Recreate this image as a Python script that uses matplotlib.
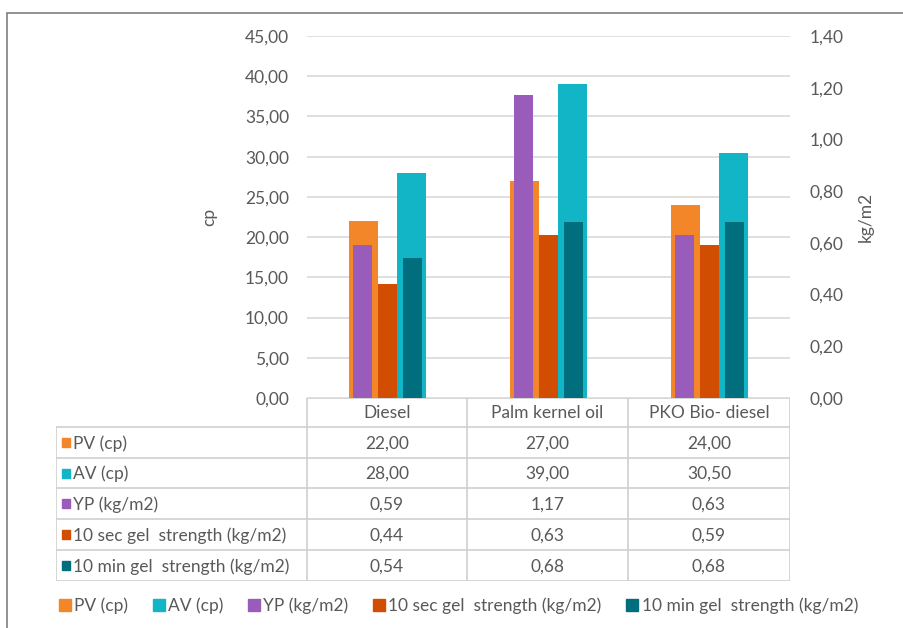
import matplotlib.pyplot as plt
import numpy as np
from matplotlib.patches import Rectangle
from matplotlib.lines import Line2D

plt.rcParams['font.family'] = ['Lato', 'DejaVu Sans']

W, H = 904, 628

categories = ["Diesel", "Palm kernel oil", "PKO Bio- diesel"]
pv = [22.00, 27.00, 24.00]
av = [28.00, 39.00, 30.50]
yp = [0.59, 1.17, 0.63]
gel10s = [0.44, 0.63, 0.59]
gel10m = [0.54, 0.68, 0.68]

series_names = ["PV (cp)", "AV (cp)", "YP (kg/m2)",
                "10 sec gel  strength (kg/m2)", "10 min gel  strength (kg/m2)"]
series_vals = [pv, av, yp, gel10s, gel10m]
colors = ["#F4862A", "#11B5C6", "#9A5CBA", "#D14D02", "#006E7C"]

left_ticks = np.arange(0, 46, 5)
right_ticks = np.arange(0, 1.41, 0.2)

TXT = "#595959"
GRID = "#D9D9D9"
FS = 12.5

fig = plt.figure(figsize=(W / 100, H / 100), dpi=100, facecolor="white")

# outer chart border
fig.add_artist(Rectangle((7 / W, -0.1), 1.2, 1 - 13 / H + 0.1, transform=fig.transFigure,
                         fill=False, edgecolor="#7F7F7F", linewidth=1.2))

x0, x1, ytop, ybot = 307, 790, 36, 398
ax = fig.add_axes([x0 / W, 1 - ybot / H, (x1 - x0) / W, (ybot - ytop) / H])
ax2 = ax.twinx()

x = np.arange(len(categories))
ax.bar(x - 0.15, pv, width=0.18, color=colors[0], zorder=2)
ax.bar(x + 0.15, av, width=0.18, color=colors[1], zorder=2)
ax2.bar(x - 0.155, yp, width=0.118, color=colors[2])
ax2.bar(x, gel10s, width=0.118, color=colors[3])
ax2.bar(x + 0.155, gel10m, width=0.118, color=colors[4])

ax.set_xlim(-0.5, 2.5)
ax.set_ylim(0, 45)
ax2.set_ylim(0, 1.4)
ax.set_yticks(left_ticks)
ax.set_yticklabels([f"{v:.2f}".replace(".", ",") for v in left_ticks])
ax2.set_yticks(right_ticks)
ax2.set_yticklabels([f"{v:.2f}".replace(".", ",") for v in right_ticks])
ax.set_xticks([])
ax.grid(axis="y", color=GRID, linewidth=1.2)
ax.set_axisbelow(True)
for a in (ax, ax2):
    for s in a.spines.values():
        s.set_visible(False)
    a.tick_params(axis="y", length=0, labelsize=FS, labelcolor=TXT)
ax.tick_params(axis="y", pad=13)
ax2.tick_params(axis="y", pad=14)
ax.set_ylabel("cp", fontsize=FS, color=TXT, labelpad=20)
ax2.set_ylabel("kg/m2", fontsize=FS, color=TXT, labelpad=10)

# data table
t_left, t_bot = 56, 581
tax = fig.add_axes([t_left / W, 1 - t_bot / H, (x1 - t_left) / W, (t_bot - ybot) / H])
tax.set_xlim(t_left, x1)
tax.set_ylim(t_bot, ybot)
tax.axis("off")
col_edges = [x0, 467, 628, x1]
row_edges = [ybot, 427, 458, 488, 519, 550, 581]
lc = "#D0D0D0"
for cx in col_edges:
    tax.plot([cx, cx], [ybot, t_bot], color=lc, lw=1.2)
tax.plot([t_left, t_left], [row_edges[1], t_bot], color=lc, lw=1.2)
for i, ry in enumerate(row_edges):
    xa = x0 if i == 0 else t_left
    tax.plot([xa, x1], [ry, ry], color=lc, lw=1.2)
for j, c in enumerate(categories):
    tax.text((col_edges[j] + col_edges[j + 1]) / 2, (row_edges[0] + row_edges[1]) / 2 + 1, c,
             ha="center", va="center", fontsize=FS, color=TXT)
for i, (name, vals) in enumerate(zip(series_names, series_vals)):
    yc = (row_edges[i + 1] + row_edges[i + 2]) / 2
    tax.add_patch(Rectangle((62, yc - 4.5), 8, 9, color=colors[i]))
    tax.text(73, yc + 1, name, ha="left", va="center", fontsize=FS, color=TXT)
    for j, v in enumerate(vals):
        tax.text((col_edges[j] + col_edges[j + 1]) / 2, yc + 1, f"{v:.2f}".replace(".", ","),
                 ha="center", va="center", fontsize=FS, color=TXT)

# legend
handles = [Line2D([0], [0], marker="s", linestyle="none", markersize=8,
                  markerfacecolor=c, markeredgecolor=c) for c in colors]
fig.legend(handles, series_names, loc="center", bbox_to_anchor=(457 / W, 1 - 606 / H),
           ncol=5, frameon=False, fontsize=FS, labelcolor=TXT, handletextpad=0.05,
           columnspacing=1.25, handlelength=1.0)

fig.savefig("out.png", dpi=100, facecolor="white")
